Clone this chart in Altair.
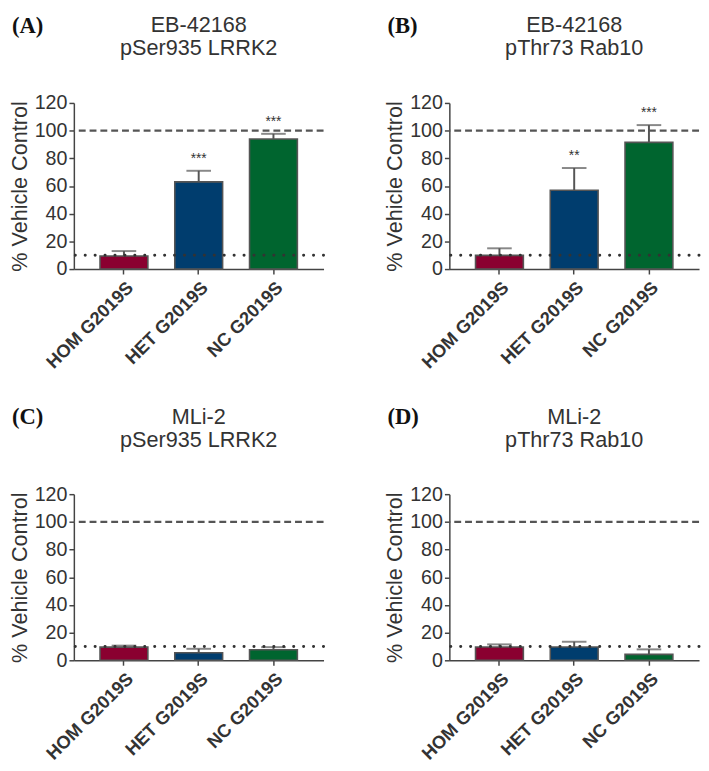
import altair as alt
import pandas as pd

groups = ["HOM G2019S", "HET G2019S", "NC G2019S"]
panel_labels = ["(A)", "(B)", "(C)", "(D)"]
titles = [["EB-42168", "pSer935 LRRK2"], ["EB-42168", "pThr73 Rab10"],
          ["MLi-2", "pSer935 LRRK2"], ["MLi-2", "pThr73 Rab10"]]
means = [[9.5, 63.0, 94.0], [9.9, 57.0, 91.5], [9.5, 5.5, 7.6], [9.6, 9.6, 4.3]]
errs = [[3.5, 8.0, 3.7], [5.1, 16.0, 12.5], [1.1, 2.8, 1.9], [1.9, 3.8, 3.6]]
stars = [["", "***", "***"], ["", "**", "***"], ["", "", ""], ["", "", ""]]
colors_top = ["#8a0030", "#003d6e", "#00652f"]
colors_bottom = ["#8a0030", "#003d6e", "#006e5c"]
y_ticks = [0, 20, 40, 60, 80, 100, 120]
ref_dash = 100
ref_dot = 10

FONT = "Liberation Sans"
W, H = 254, 169

y_axis = alt.Axis(values=y_ticks, labelFontSize=20, labelFont=FONT, labelColor="#333",
                  titleFont=FONT, titleFontSize=22, titleFontWeight="normal",
                  titleColor="#333", domainColor="#444", domainWidth=1.5,
                  tickColor="#444", tickWidth=1.5, tickSize=5, labelPadding=2,
                  titlePadding=3, grid=False, labelOverlap=False, labelFlush=False,
                  title="% Vehicle Control")
y_scale = alt.Scale(domain=[0, 120], nice=False)
x_axis = alt.Axis(labelAngle=-45, labelFontWeight="bold", labelFontSize=18.5,
                  labelFont=FONT, labelColor="#333", domainColor="#444",
                  domainWidth=1.5, tickColor="#444", tickWidth=1.5, tickSize=5,
                  labelPadding=4, labelOverlap=False, title=None)
x_scale = alt.Scale(paddingInner=0.36, paddingOuter=0.35)


def X():
    return alt.X("group:N", sort=groups, scale=x_scale, axis=x_axis)


def Y(f):
    return alt.Y(f, scale=y_scale, axis=y_axis)


def panel(i):
    df = pd.DataFrame({
        "group": groups,
        "mean": means[i],
        "top": [m + e for m, e in zip(means[i], errs[i])],
        "star": stars[i],
    })
    cols = colors_top if i < 2 else colors_bottom
    base = alt.Chart(df)
    bars = base.mark_bar(stroke="#555", strokeWidth=1.6).encode(
        x=X(), y=Y("mean:Q"),
        color=alt.Color("group:N", sort=groups, legend=None,
                        scale=alt.Scale(domain=groups, range=cols)))
    err = base.mark_rule(color="#555", strokeWidth=2).encode(
        x=X(), y=Y("mean:Q"), y2="top:Q")
    cap = base.mark_tick(color="#555", thickness=2, size=25, orient="horizontal").encode(
        x=X(), y=Y("top:Q"))
    txt = base.mark_text(fontSize=14, font=FONT, color="#333", baseline="alphabetic",
                         dy=-8).encode(
        x=X(), y=Y("top:Q"), text="star:N")
    dash = alt.Chart(pd.DataFrame({"v": [ref_dash]})).mark_rule(
        color="#555", strokeWidth=2.5, strokeDash=[7, 4]).encode(y=Y("v:Q"))
    dot = alt.Chart(pd.DataFrame({"v": [ref_dot]})).mark_rule(
        color="#333", strokeWidth=3, strokeDash=[0.1, 10], strokeCap="round").encode(
        y=Y("v:Q"))
    lab = alt.Chart(pd.DataFrame({"l": [panel_labels[i]]})).mark_text(
        font="Liberation Serif", fontSize=23, fontWeight="bold", color="#111",
        align="left", baseline="alphabetic").encode(
        x=alt.value(-63), y=alt.value(-71), text="l:N")
    ttl = alt.Chart(pd.DataFrame({"t": [0]})).mark_text(
        font=FONT, fontSize=22, color="#333", align="center", baseline="alphabetic",
        lineHeight=23).encode(
        x=alt.value(W / 2), y=alt.value(-72 if i < 2 else -71),
        text=alt.value(titles[i]))
    return alt.layer(bars, err, cap, txt, dash, dot, lab, ttl).properties(
        width=W, height=H)


chart = alt.concat(*[panel(i) for i in range(4)], columns=2,
                   spacing={"row": 229, "column": 128}, bounds="flush").properties(
    padding=0
).configure_view(stroke=None).configure_axis(labelOverlap=False)

chart.save("out.html", embed_options={"renderer": "svg", "actions": False})
